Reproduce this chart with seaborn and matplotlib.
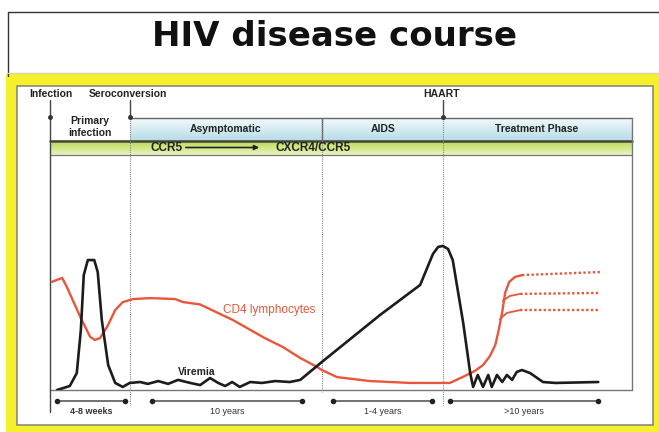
import numpy as np
import pandas as pd
import matplotlib.pyplot as plt
import seaborn as sns
from matplotlib.patches import Rectangle

# time axis is schematic: 0..100 across the panel, level 0..100 from baseline up
vir_x = [1.2, 3.4, 4.6, 5.3, 5.8, 6.5, 7.6, 8.2, 8.9, 10.0, 11.2, 12.5,
         13.7, 15.5, 16.8, 18.6, 20.3, 22.0, 24.1, 25.8, 27.5, 28.9, 30.1, 31.3,
         32.6, 34.4, 36.4, 38.7, 41.2, 43.0, 46.7, 56.7, 63.6, 64.8, 65.8, 66.7,
         67.5, 68.4, 69.2, 71.0, 72.2, 72.7, 73.5, 74.4, 75.3, 75.9, 76.8, 77.7,
         78.5, 79.4, 80.2, 81.1, 82.5, 84.7, 86.8, 94.2]
vir_y = [0.0, 1.7, 7.2, 25.5, 48.9, 55.3, 55.3, 50.2, 29.8, 10.6, 3.0, 1.3,
         3.0, 3.4, 2.6, 3.8, 2.6, 4.3, 3.0, 2.1, 5.1, 3.0, 1.7, 3.4,
         1.3, 3.4, 3.0, 3.8, 3.4, 4.3, 11.9, 31.9, 44.7, 51.9, 57.9, 60.9,
         61.3, 60.0, 55.3, 28.5, 7.2, 1.3, 6.4, 1.3, 6.4, 1.3, 6.4, 3.4,
         6.4, 4.3, 7.7, 8.5, 7.2, 3.4, 3.0, 3.4]

cd4_x = [0.3, 2.1, 2.9, 5.2, 6.9, 7.7, 8.6, 9.8, 11.2, 12.5, 14.3, 17.2, 21.5,
         22.9, 25.8, 31.4, 36.9, 40.0, 43.0, 45.9, 46.7, 49.3, 55.0, 61.9, 68.7,
         71.3, 73.0, 74.4, 75.6, 76.5, 77.1, 77.7, 78.2, 78.9, 79.9, 81.1]
cd4_y = [46.0, 47.7, 43.8, 31.1, 22.6, 21.3, 22.1, 26.8, 34.0, 37.4, 38.7, 39.1, 38.7,
         37.4, 36.4, 29.8, 22.1, 18.3, 13.6, 9.8, 8.5, 5.5, 3.8, 3.0, 3.0,
         6.0, 8.1, 10.6, 14.5, 19.1, 25.5, 33.2, 41.3, 46.0, 48.1, 48.9]

# three possible recoveries under treatment: solid start, dotted projection
rec_solid_x = [[77.8, 79.0, 80.8], [77.3, 78.5, 80.8]]
rec_solid_y = [[38.0, 40.0, 40.9], [30.2, 32.8, 34.0]]
rec_dot_x = [[81.1, 94.5], [80.8, 94.2], [80.8, 94.2]]
rec_dot_y = [[48.9, 50.2], [40.9, 41.3], [34.0, 34.0]]

phases = ['Asymptomatic', 'AIDS', 'Treatment Phase']
spans = ['4-8 weeks', '10 years', '1-4 years', '>10 years']

RED = '#e8573b'
BLACK = '#1c1c1c'

sns.set_style('white')
plt.rcParams['font.family'] = ['Liberation Sans', 'DejaVu Sans']

fig = plt.figure(figsize=(6.59, 4.32), dpi=100)
bg = fig.add_axes([0, 0, 1, 1])
bg.set_xlim(0, 659)
bg.set_ylim(432, 0)
bg.axis('off')

# slide frame
bg.plot([7.5, 7.5], [11.5, 76], color='#333', lw=1)
bg.plot([7.5, 659], [11.5, 11.5], color='#333', lw=1)
bg.plot([7.5, 659], [73, 73], color='#d8d3a8', lw=1)
bg.add_patch(Rectangle((6, 74), 653, 358, color='#f6ef2c', zorder=0))
bg.add_patch(Rectangle((16.5, 85.5), 636, 339, facecolor='white', edgecolor='#8a8a7a', lw=1.2, zorder=1))

bg.text(335, 36, 'HIV disease course', ha='center', va='center', fontsize=24.5,
        fontweight='bold', family='DejaVu Sans', color='#111')

# header bands
blue = np.linspace(0, 1, 50).reshape(-1, 1)
bg.imshow(blue, extent=[130, 632, 140, 118], cmap=sns.blend_palette(['#f2f9fb', '#b9dde8'], as_cmap=True),
          aspect='auto', zorder=2)
bg.imshow(blue, extent=[50, 632, 155, 140], cmap=sns.blend_palette(['#b8d94a', '#e9f3c4'], as_cmap=True),
          aspect='auto', zorder=2)
bg.plot([130, 632], [118, 118], color='#666', lw=1, zorder=3)
bg.plot([50, 632], [140.5, 140.5], color='#444', lw=1.8, zorder=3)
bg.plot([50, 632], [155, 155], color='#777', lw=0.9, zorder=3)
bg.plot([632, 632], [118, 390], color='#777', lw=1, zorder=3)
bg.plot([50, 632], [390, 390], color='#777', lw=1, zorder=3)
bg.plot([50, 50], [100, 412], color='#444', lw=1, zorder=3)
bg.plot([322, 322], [118, 140], color='#555', lw=1, zorder=3)

for xp, top in [(130, 100), (443, 100)]:
    bg.plot([xp, xp], [top, 118], color='#444', lw=1, zorder=3)
for xp, bottom in [(130, 405), (322, 392), (443, 405)]:
    bg.plot([xp, xp], [118, bottom], color='#888', lw=0.8, ls=(0, (1, 1)), zorder=3)
for xp in [50, 130, 443]:
    bg.plot(xp, 117, 'o', ms=2.5, color='#333', zorder=4)

small = dict(fontsize=7.5, fontweight='bold', color='#222', ha='center', va='center', zorder=5)
bg.text(51, 94, 'Infection', **small)
bg.text(128, 94, 'Seroconversion', **small)
bg.text(441, 94, 'HAART', **small)
bg.text(90, 127, 'Primary\ninfection', linespacing=1.25, **small)
for name, xc in zip(phases, [226, 383, 537]):
    bg.text(xc, 129, name, **small)

bg.text(167, 148, 'CCR5', fontsize=8.5, fontweight='bold', ha='center', va='center', color='#222', zorder=5)
bg.text(313, 148, 'CXCR4/CCR5', fontsize=8.5, fontweight='bold', ha='center', va='center', color='#222', zorder=5)
bg.annotate('', xy=(262, 147.5), xytext=(183, 147.5),
            arrowprops=dict(arrowstyle='-|>', color='#222', lw=1.2, mutation_scale=7), zorder=5)

# duration bars under the baseline
for (x0, x1), lab in zip([(57, 125), (152, 302), (333, 432), (450, 598)], spans):
    bg.plot([x0, x1], [401, 401], color='#666', lw=1.3, zorder=3)
    bg.plot([x0, x1], [401, 401], 'o', ms=3, color='#222', zorder=4)
    bg.text((x0 + x1) / 2, 411, lab, fontsize=6.5, fontweight='bold' if lab == '4-8 weeks' else 'normal',
            ha='center', va='center', color='#333')

# curves
ax = fig.add_axes([50 / 659, 42 / 432, 582 / 659, 235 / 432])
ax.set_xlim(0, 100)
ax.set_ylim(0, 100)
ax.axis('off')
ax.patch.set_alpha(0)

sns.lineplot(x=cd4_x, y=cd4_y, sort=False, estimator=None, color=RED, lw=1.7, ax=ax,
             solid_joinstyle='round', solid_capstyle='round')
for xs, ys in zip(rec_solid_x, rec_solid_y):
    sns.lineplot(x=xs, y=ys, sort=False, estimator=None, color=RED, lw=1.3, ax=ax)
for xs, ys in zip(rec_dot_x, rec_dot_y):
    sns.lineplot(x=xs, y=ys, sort=False, estimator=None, color=RED, lw=1.7, ls=(0, (1, 1)), ax=ax)
sns.lineplot(x=vir_x, y=vir_y, sort=False, estimator=None, color=BLACK, lw=1.9, ax=ax,
             solid_joinstyle='round', solid_capstyle='round')

ax.text(37.6, 34, 'CD4 lymphocytes', color=RED, fontsize=8.5, ha='center', va='center')
ax.text(25.2, 7.5, 'Viremia', color='#222', fontsize=7.5, fontweight='bold', ha='center', va='center')

fig.savefig('out.png', dpi=100)
